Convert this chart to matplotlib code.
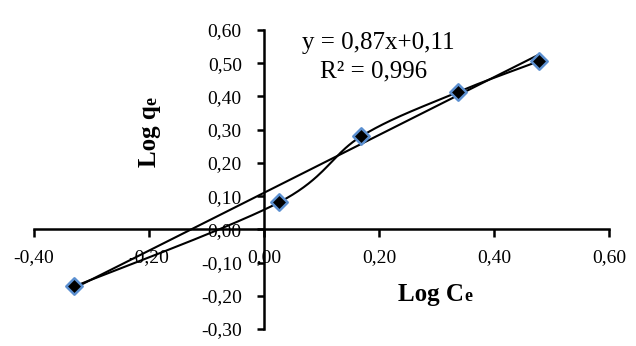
import numpy as np
import matplotlib.pyplot as plt

plt.rcParams['font.family'] = ['Liberation Serif', 'DejaVu Serif']

# Datos: Log Ce vs Log qe
log_ce = [-0.330, 0.026, 0.169, 0.337, 0.478]
log_qe = [-0.172, 0.081, 0.280, 0.413, 0.506]

# Recta de ajuste
pendiente = 0.87
intercepto = 0.11
r2 = 0.996

xticks = [-0.4, -0.2, 0.0, 0.2, 0.4, 0.6]
yticks = [-0.3, -0.2, -0.1, 0.0, 0.1, 0.2, 0.3, 0.4, 0.5, 0.6]


def coma(v):
    return f'{v:.2f}'.replace('.', ',').replace('-0,00', '0,00')


def curva_suave(x, y, n=40):
    # Bezier por tramos con puntos de control tipo Catmull-Rom
    p = np.column_stack([x, y])
    p = np.vstack([p[0], p, p[-1]])
    salida = []
    t = np.linspace(0, 1, n)[:, None]
    for i in range(1, len(p) - 2):
        p0, p1, p2, p3 = p[i - 1], p[i], p[i + 1], p[i + 2]
        c1 = p1 + (p2 - p0) / 6
        c2 = p2 - (p3 - p1) / 6
        seg = ((1 - t) ** 3) * p1 + 3 * ((1 - t) ** 2) * t * c1 + 3 * (1 - t) * t ** 2 * c2 + t ** 3 * p2
        salida.append(seg)
    salida = np.vstack(salida)
    return salida[:, 0], salida[:, 1]


fig = plt.figure(figsize=(6.36, 3.46), dpi=100)
ax = fig.add_axes([34 / 636, 17 / 346, 575 / 636, 299 / 346])

xs, ys = curva_suave(log_ce, log_qe)
ax.plot(xs, ys, color='black', lw=1.5, zorder=2)

xr = np.array([min(log_ce), max(log_ce)])
ax.plot(xr, pendiente * xr + intercepto, color='black', lw=1.5, zorder=2)

ax.scatter(log_ce, log_qe, marker='D', s=70, facecolor='black',
           edgecolor='#5B8FD0', linewidth=1.8, zorder=3)

ax.set_xlim(-0.4, 0.6)
ax.set_ylim(-0.3, 0.6)
ax.set_xticks(xticks)
ax.set_yticks(yticks)
ax.set_xticklabels([coma(v) for v in xticks])
ax.set_yticklabels([coma(v) for v in yticks])

ax.spines['left'].set_position(('data', 0))
ax.spines['bottom'].set_position(('data', 0))
ax.spines['right'].set_visible(False)
ax.spines['top'].set_visible(False)
for s in ['left', 'bottom']:
    ax.spines[s].set_linewidth(1.8)
ax.tick_params(axis='x', direction='out', length=6, width=1.8, pad=8, labelsize=14)
ax.tick_params(axis='y', direction='out', length=5, width=1.8, pad=11, labelsize=14)

# Ecuación de la recta
ax.text(0.199, 0.56, f'y = {pendiente:.2f}x+{intercepto:.2f}'.replace('.', ','),
        fontsize=18, ha='center', va='center')
ax.text(0.19, 0.475, f'R² = {r2:.3f}'.replace('.', ','), fontsize=18,
        ha='center', va='center')

# Títulos de ejes con la "e" más pequeña
ax.text(-0.188, 0.373, 'Log q', fontsize=18, fontweight='bold', rotation=90,
        rotation_mode='anchor', ha='right', va='baseline')
ax.text(-0.188, 0.373, 'e', fontsize=13, fontweight='bold', rotation=90,
        rotation_mode='anchor', ha='left', va='baseline')
ax.text(0.348, -0.217, 'Log C', fontsize=18, fontweight='bold',
        ha='right', va='baseline')
ax.text(0.348, -0.217, 'e', fontsize=13, fontweight='bold',
        ha='left', va='baseline')

fig.savefig('out.png', dpi=100)
